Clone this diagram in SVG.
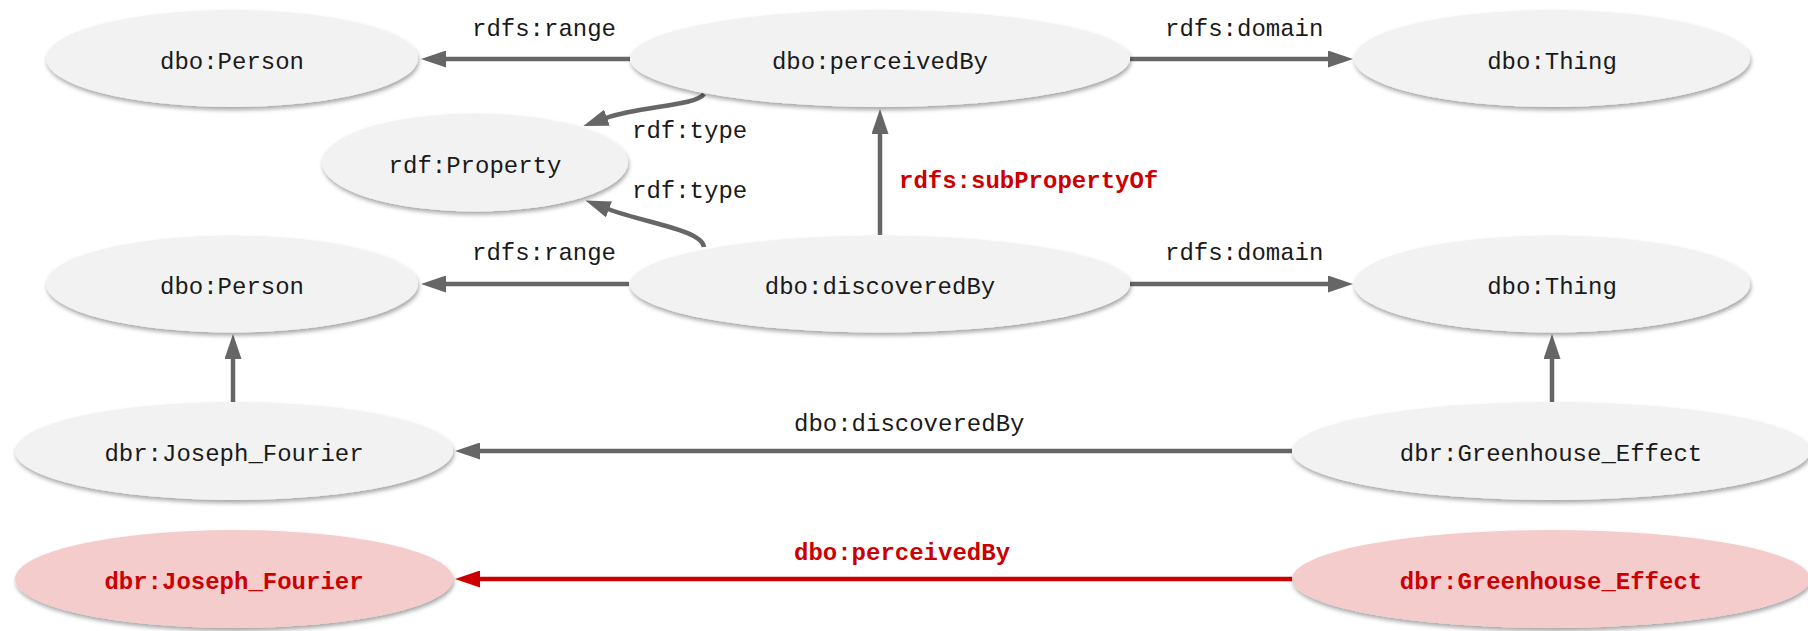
<svg xmlns="http://www.w3.org/2000/svg" width="1808" height="631" viewBox="0 0 1808 631">
<style>
.n{fill:#f2f2f2;filter:url(#sh)}
.r{fill:#f4cccc;filter:url(#sh)}
.t{font-family:"Liberation Mono","Courier New",monospace;font-size:24px;fill:#1a1a1a;text-anchor:middle}
.rt{font-family:"Liberation Mono","Courier New",monospace;font-size:24px;font-weight:bold;fill:#cc0000;text-anchor:middle}
.l{font-family:"Liberation Mono","Courier New",monospace;font-size:24px;fill:#1a1a1a}
.rl{font-family:"Liberation Mono","Courier New",monospace;font-size:24px;font-weight:bold;fill:#cc0000}
.e{fill:none;stroke:#666666;stroke-width:4.5;marker-end:url(#ah)}
.re{fill:none;stroke:#cc0000;stroke-width:4.5;marker-end:url(#rah)}
</style>
<defs>
<filter id="sh" x="-10%" y="-20%" width="120%" height="150%">
<feDropShadow dx="1" dy="3" stdDeviation="2" flood-color="#000" flood-opacity="0.35"/>
</filter>
<marker id="ah" markerUnits="userSpaceOnUse" viewBox="0 0 25 17" markerWidth="25" markerHeight="17" refX="1" refY="8.5" orient="auto">
<path d="M0,0 L25,8.5 L0,17 z" fill="#666666"/>
</marker>
<marker id="rah" markerUnits="userSpaceOnUse" viewBox="0 0 25 17" markerWidth="25" markerHeight="17" refX="1" refY="8.5" orient="auto">
<path d="M0,0 L25,8.5 L0,17 z" fill="#cc0000"/>
</marker>
</defs>
<rect width="1808" height="631" fill="#ffffff"/>

<g id="connectors">
<path class="e" d="M630,59 L445,59"/>
<path class="e" d="M1130,59 L1329,59"/>
<path class="e" d="M704,94 C696,106 640,106 606,118"/>
<path class="e" d="M704,247 C702,230 645,223 608,209"/>
<path class="e" d="M880,235 L880,133"/>
<path class="e" d="M629,284 L445,284"/>
<path class="e" d="M1130,284 L1329,284"/>
<path class="e" d="M233,402 L233,358"/>
<path class="e" d="M1552,402 L1552,358"/>
<path class="e" d="M1292,451 L479,451"/>
<path class="re" d="M1292,579 L479,579"/>
<text class="l" x="472" y="36">rdfs:range</text>
<text class="l" x="1165" y="36">rdfs:domain</text>
<text class="l" x="632" y="138">rdf:type</text>
<text class="l" x="632" y="198">rdf:type</text>
<text class="rl" x="899" y="188">rdfs:subPropertyOf</text>
<text class="l" x="472" y="260">rdfs:range</text>
<text class="l" x="1165" y="260">rdfs:domain</text>
<text class="l" x="794" y="431">dbo:discoveredBy</text>
<text class="rl" x="794" y="560">dbo:perceivedBy</text>
</g>

<g id="person1"><ellipse class="n" cx="232" cy="58.5" rx="186" ry="48.5"/><text class="t" x="232" y="69">dbo:Person</text></g>
<g id="perceivedBy"><ellipse class="n" cx="880" cy="58.5" rx="250" ry="48.5"/><text class="t" x="880" y="69">dbo:perceivedBy</text></g>
<g id="thing1"><ellipse class="n" cx="1552" cy="58.5" rx="198" ry="48.5"/><text class="t" x="1552" y="69">dbo:Thing</text></g>
<g id="property"><ellipse class="n" cx="475" cy="162.5" rx="153" ry="49"/><text class="t" x="475" y="173">rdf:Property</text></g>
<g id="person2"><ellipse class="n" cx="232" cy="284" rx="186" ry="48.5"/><text class="t" x="232" y="294">dbo:Person</text></g>
<g id="discoveredBy"><ellipse class="n" cx="880" cy="284" rx="250" ry="48.5"/><text class="t" x="880" y="294">dbo:discoveredBy</text></g>
<g id="thing2"><ellipse class="n" cx="1552" cy="284" rx="198" ry="48.5"/><text class="t" x="1552" y="294">dbo:Thing</text></g>
<g id="fourier"><ellipse class="n" cx="234" cy="451" rx="219" ry="49"/><text class="t" x="234" y="461">dbr:Joseph_Fourier</text></g>
<g id="greenhouse"><ellipse class="n" cx="1551" cy="451" rx="259" ry="49"/><text class="t" x="1551" y="461">dbr:Greenhouse_Effect</text></g>
<g id="fourierRed"><ellipse class="r" cx="234" cy="579" rx="219" ry="49"/><text class="rt" x="234" y="589">dbr:Joseph_Fourier</text></g>
<g id="greenhouseRed"><ellipse class="r" cx="1551" cy="579" rx="259" ry="49"/><text class="rt" x="1551" y="589">dbr:Greenhouse_Effect</text></g>
</svg>
